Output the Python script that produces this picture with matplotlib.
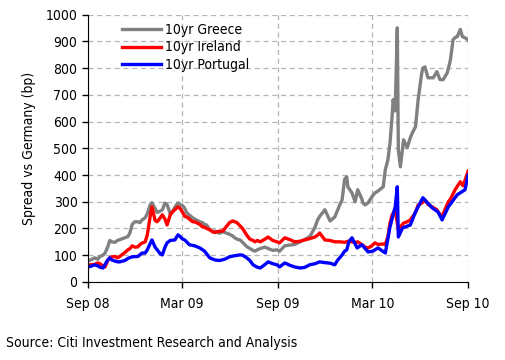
import matplotlib
matplotlib.use("Agg")
import matplotlib.pyplot as plt
import pandas as pd

plt.rcParams['font.family'] = ['DejaVu Sans']
plt.rcParams['font.stretch'] = 'condensed'

# 10yr Greece spread vs Germany (bp)
greece_dates = [
    "2008-09-01", "2008-09-09", "2008-09-14", "2008-09-20", "2008-09-24", "2008-09-30",
    "2008-10-04", "2008-10-09", "2008-10-13", "2008-10-17", "2008-10-23", "2008-10-28",
    "2008-11-01", "2008-11-11", "2008-11-17", "2008-11-21", "2008-11-25", "2008-11-30",
    "2008-12-06", "2008-12-10", "2008-12-14", "2008-12-20", "2008-12-24", "2008-12-30",
    "2009-01-02", "2009-01-08", "2009-01-12", "2009-01-18", "2009-01-22", "2009-01-27",
    "2009-01-31", "2009-02-06", "2009-02-10", "2009-02-15", "2009-02-21", "2009-02-25",
    "2009-03-02", "2009-03-06", "2009-03-10", "2009-03-15", "2009-03-21", "2009-03-25",
    "2009-04-04", "2009-04-09", "2009-04-13", "2009-04-17", "2009-04-23", "2009-04-29",
    "2009-05-03", "2009-05-12", "2009-05-18", "2009-05-22", "2009-05-31", "2009-06-06",
    "2009-06-10", "2009-06-14", "2009-06-20", "2009-06-25", "2009-07-03", "2009-07-09",
    "2009-07-15", "2009-07-19", "2009-07-23", "2009-07-29", "2009-08-07", "2009-08-13",
    "2009-08-22", "2009-08-30", "2009-09-04", "2009-09-14", "2009-09-24", "2009-10-03",
    "2009-10-13", "2009-10-22", "2009-11-01", "2009-11-05", "2009-11-11", "2009-11-16",
    "2009-11-20", "2009-11-30", "2009-12-10", "2009-12-19", "2009-12-29", "2010-01-02",
    "2010-01-07", "2010-01-11", "2010-01-13", "2010-01-21", "2010-01-27", "2010-02-01",
    "2010-02-09", "2010-02-11", "2010-02-15", "2010-02-21", "2010-02-28", "2010-03-06",
    "2010-03-12", "2010-03-22", "2010-03-26", "2010-03-31", "2010-04-04", "2010-04-08",
    "2010-04-10", "2010-04-14", "2010-04-18", "2010-04-20", "2010-04-24", "2010-04-28",
    "2010-04-30", "2010-05-07", "2010-05-13", "2010-05-17", "2010-05-23", "2010-05-28",
    "2010-06-04", "2010-06-06", "2010-06-10", "2010-06-16", "2010-06-26", "2010-07-03",
    "2010-07-09", "2010-07-15", "2010-07-23", "2010-07-29", "2010-08-03", "2010-08-07",
    "2010-08-11", "2010-08-17", "2010-08-21", "2010-08-26", "2010-09-01",
]
greece = [
    78, 85, 90, 85, 95, 100,
    108, 130, 155, 150, 148, 155,
    158, 165, 170, 185, 215, 225,
    225, 222, 232, 240, 255, 290,
    296, 275, 260, 265, 270, 295,
    290, 255, 260, 280, 296, 288,
    285, 275, 258, 250, 240, 235,
    225, 222, 215, 213, 195, 188,
    190, 182, 188, 185, 178, 172,
    165, 160, 157, 148, 132, 125,
    118, 115, 120, 125, 130, 125,
    118, 120, 115, 135, 138, 140,
    150, 158, 170, 183, 205, 232,
    245, 270, 228, 243, 290, 307,
    385, 393, 356, 333, 300, 345,
    310, 296, 288, 296, 318, 333,
    340, 356, 420, 457, 520, 618,
    682, 640, 951, 494, 431, 500,
    532, 502, 540, 558, 581, 682,
    783, 800, 805, 764, 764, 787,
    757, 757, 783, 831, 906, 915,
    918, 945, 918, 914, 906,
]

# 10yr Ireland spread vs Germany (bp)
ireland_dates = [
    "2008-09-01", "2008-09-09", "2008-09-14", "2008-09-20", "2008-09-24", "2008-09-30",
    "2008-10-04", "2008-10-09", "2008-10-13", "2008-10-17", "2008-10-23", "2008-10-28",
    "2008-11-01", "2008-11-11", "2008-11-17", "2008-11-21", "2008-11-25", "2008-11-30",
    "2008-12-06", "2008-12-10", "2008-12-14", "2008-12-20", "2008-12-24", "2008-12-30",
    "2009-01-02", "2009-01-08", "2009-01-12", "2009-01-18", "2009-01-22", "2009-01-27",
    "2009-01-31", "2009-02-06", "2009-02-10", "2009-02-15", "2009-02-21", "2009-02-25",
    "2009-03-02", "2009-03-06", "2009-03-10", "2009-03-15", "2009-03-21", "2009-03-25",
    "2009-04-04", "2009-04-09", "2009-04-13", "2009-04-17", "2009-04-23", "2009-04-29",
    "2009-05-03", "2009-05-12", "2009-05-18", "2009-05-22", "2009-05-31", "2009-06-06",
    "2009-06-10", "2009-06-14", "2009-06-20", "2009-06-25", "2009-07-03", "2009-07-09",
    "2009-07-15", "2009-07-19", "2009-07-23", "2009-07-29", "2009-08-07", "2009-08-13",
    "2009-08-22", "2009-08-30", "2009-09-04", "2009-09-14", "2009-09-24", "2009-10-03",
    "2009-10-13", "2009-10-22", "2009-11-01", "2009-11-11", "2009-11-16", "2009-11-20",
    "2009-11-30", "2009-12-10", "2009-12-19", "2009-12-29", "2010-01-07", "2010-01-13",
    "2010-01-21", "2010-01-27", "2010-02-01", "2010-02-09", "2010-02-15", "2010-02-21",
    "2010-02-28", "2010-03-06", "2010-03-12", "2010-03-22", "2010-03-26", "2010-03-31",
    "2010-04-04", "2010-04-08", "2010-04-14", "2010-04-20", "2010-04-24", "2010-04-30",
    "2010-05-07", "2010-05-13", "2010-05-23", "2010-05-28", "2010-06-04", "2010-06-10",
    "2010-06-16", "2010-06-24", "2010-07-03", "2010-07-13", "2010-07-15", "2010-07-25",
    "2010-07-29", "2010-08-07", "2010-08-17", "2010-08-22", "2010-08-26", "2010-09-01",
]
ireland = [
    62, 65, 65, 71, 68, 60,
    56, 80, 90, 94, 95, 90,
    95, 110, 120, 125, 135, 130,
    131, 140, 145, 150, 175, 250,
    281, 230, 225, 240, 251, 235,
    213, 250, 262, 270, 281, 275,
    260, 245, 243, 235, 225, 225,
    215, 206, 205, 200, 195, 187,
    185, 190, 190, 200, 222, 228,
    225, 222, 210, 200, 175, 160,
    155, 150, 155, 150, 160, 168,
    155, 150, 146, 165, 158, 150,
    152, 157, 162, 168, 175, 183,
    157, 155, 150, 150, 148, 152,
    150, 147, 150, 140, 130, 127,
    135, 146, 140, 142, 139, 170,
    220, 250, 270, 195, 205, 220,
    225, 232, 260, 288, 295, 307,
    290, 281, 270, 240, 255, 300,
    310, 345, 375, 360, 380, 415,
]

# 10yr Portugal spread vs Germany (bp)
portugal_dates = [
    "2008-09-01", "2008-09-09", "2008-09-14", "2008-09-20", "2008-09-24", "2008-09-30",
    "2008-10-04", "2008-10-09", "2008-10-13", "2008-10-17", "2008-10-23", "2008-10-28",
    "2008-11-01", "2008-11-11", "2008-11-17", "2008-11-25", "2008-12-06", "2008-12-14",
    "2008-12-20", "2008-12-24", "2008-12-30", "2009-01-02", "2009-01-08", "2009-01-12",
    "2009-01-18", "2009-01-22", "2009-01-27", "2009-01-31", "2009-02-06", "2009-02-15",
    "2009-02-21", "2009-02-25", "2009-03-02", "2009-03-06", "2009-03-15", "2009-03-25",
    "2009-04-04", "2009-04-13", "2009-04-23", "2009-05-03", "2009-05-12", "2009-05-22",
    "2009-05-31", "2009-06-10", "2009-06-20", "2009-06-25", "2009-07-03", "2009-07-09",
    "2009-07-15", "2009-07-23", "2009-07-29", "2009-08-07", "2009-08-13", "2009-08-22",
    "2009-08-30", "2009-09-04", "2009-09-14", "2009-09-24", "2009-10-03", "2009-10-13",
    "2009-10-22", "2009-11-01", "2009-11-11", "2009-11-20", "2009-11-30", "2009-12-10",
    "2009-12-19", "2009-12-24", "2010-01-02", "2010-01-07", "2010-01-11", "2010-01-15",
    "2010-01-21", "2010-01-31", "2010-02-09", "2010-02-21", "2010-03-02", "2010-03-12",
    "2010-03-26", "2010-04-04", "2010-04-14", "2010-04-18", "2010-04-20", "2010-04-28",
    "2010-05-13", "2010-05-23", "2010-06-06", "2010-06-24", "2010-07-05", "2010-07-13",
    "2010-07-25", "2010-08-11", "2010-08-26", "2010-09-01",
]
portugal = [
    55, 60, 64, 60, 55, 52,
    65, 82, 90, 82, 78, 75,
    75, 80, 88, 94, 95, 108,
    108, 120, 145, 157, 130, 120,
    105, 101, 130, 146, 155, 157,
    176, 170, 160, 157, 139, 135,
    127, 115, 90, 82, 80, 85,
    94, 98, 101, 100, 90, 80,
    64, 55, 52, 65, 75, 68,
    64, 56, 71, 62, 56, 52,
    54, 64, 68, 75, 72, 70,
    64, 80, 101, 115, 120, 150,
    165, 127, 139, 112, 115, 127,
    108, 206, 281, 356, 168, 202,
    213, 262, 315, 277, 262, 232,
    281, 326, 345, 400,
]

tick_dates = ["2008-09-01", "2009-03-01", "2009-09-01", "2010-03-01", "2010-09-01"]
tick_labels = ["Sep 08", "Mar 09", "Sep 09", "Mar 10", "Sep 10"]

fig = plt.figure(figsize=(5.05, 3.6), dpi=100)
ax = fig.add_axes([0.174, 0.217, 0.753, 0.742])

ax.plot(pd.to_datetime(greece_dates), greece, color="#808080", lw=2.4, label="10yr Greece")
ax.plot(pd.to_datetime(ireland_dates), ireland, color="#ff0000", lw=2.4, label="10yr Ireland")
ax.plot(pd.to_datetime(portugal_dates), portugal, color="#0000ff", lw=2.4, label="10yr Portugal")

ticks = pd.to_datetime(tick_dates)
ax.set_xlim(ticks[0], ticks[-1])
ax.set_xticks(ticks)
ax.set_xticklabels(tick_labels)
ax.set_ylim(0, 1000)
ax.set_yticks(range(0, 1001, 100))

ax.grid(True, color="#b4b4b4", linestyle=(0, (4, 3)), linewidth=0.9)
ax.set_axisbelow(True)
for s in ["top", "right"]:
    ax.spines[s].set_visible(False)
ax.tick_params(labelsize=10, length=4, width=1, direction="out")
ax.tick_params(axis="x", pad=7)
ax.set_ylabel("Spread vs Germany (bp)", fontsize=10, labelpad=7)

ax.legend(loc="upper left", bbox_to_anchor=(0.075, 0.99), frameon=False, fontsize=10,
          handlelength=2.8, handletextpad=0.3, labelspacing=0.25, borderaxespad=0)

fig.text(0.012, 0.035, "Source: Citi Investment Research and Analysis", fontsize=10)

fig.savefig("out.png", dpi=100)
